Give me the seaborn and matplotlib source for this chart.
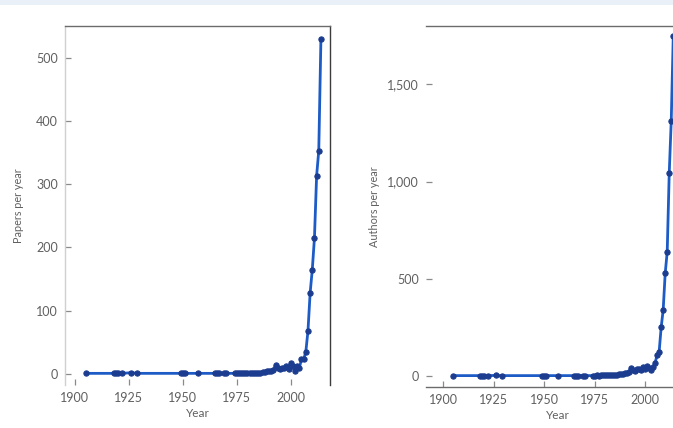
import numpy as np
import pandas as pd
import matplotlib
matplotlib.use("Agg")
import matplotlib.pyplot as plt
import seaborn as sns
from matplotlib.patches import Rectangle

# data
years = [1905, 1918, 1919, 1920, 1922, 1926, 1929, 1949, 1950, 1951, 1957,
         1965, 1966, 1967, 1969, 1970, 1974, 1975, 1976, 1977, 1978, 1979,
         1980, 1981, 1982, 1983, 1984, 1985, 1986, 1987, 1988, 1989, 1990,
         1991, 1992, 1993, 1994, 1995, 1996, 1997, 1998, 1999, 2000, 2001,
         2002, 2003, 2004, 2005, 2006, 2007, 2008, 2009, 2010, 2011, 2012,
         2013, 2014]
papers = [1, 1, 1, 1, 1, 2, 1, 1, 1, 1, 1,
          1, 1, 1, 1, 1, 1, 1, 2, 1, 1, 1,
          2, 1, 2, 1, 2, 1, 2, 3, 3, 4, 5,
          5, 7, 14, 9, 8, 10, 9, 12, 8, 18, 12,
          5, 13, 10, 23, 23, 35, 68, 128, 165, 215, 313,
          353, 530]
authors = [2, 2, 2, 2, 2, 3, 2, 2, 2, 2, 2,
           2, 2, 2, 2, 2, 2, 2, 3, 2, 3, 3,
           4, 3, 5, 4, 6, 5, 7, 9, 10, 12, 14,
           16, 22, 40, 30, 28, 36, 38, 30, 45, 35, 50,
           40, 30, 45, 68, 108, 125, 250, 340, 528, 639, 1043,
           1313, 1749]

x_ticks = [1900, 1925, 1950, 1975, 2000]
papers_ticks = [0, 100, 200, 300, 400, 500]
authors_ticks = [0, 500, 1000, 1500]
authors_labels = ["0", "500", "1,000", "1,500"]

df = pd.DataFrame({"year": years, "papers": papers, "authors": authors})

sns.set_style("white")
plt.rcParams["font.family"] = ["Lato", "DejaVu Sans"]

LINE = "#1d5bc6"
DOT = "#1b3c8f"
TXT = "#606060"

fig = plt.figure(figsize=(6.73, 4.28), dpi=100)
fig.add_artist(Rectangle((0, 1 - 5 / 428), 1, 5 / 428, transform=fig.transFigure,
                         color="#e9f0f8", lw=0))

ax1 = fig.add_axes([65 / 673, 43 / 428, 265 / 673, 359 / 428])
ax2 = fig.add_axes([426 / 673, 41.3 / 428, 264 / 673, 360.7 / 428])

for ax, col in [(ax1, "papers"), (ax2, "authors")]:
    sns.lineplot(data=df, x="year", y=col, ax=ax, color=LINE, lw=2.0,
                 marker="o", markersize=3.8, markerfacecolor=DOT,
                 markeredgecolor=DOT, clip_on=False, zorder=3)
    ax.set_xticks(x_ticks)
    ax.tick_params(axis="both", direction="in", length=4, width=0.9,
                   left=True, bottom=True,
                   colors="#8a8a8a", labelcolor=TXT, labelsize=9, pad=5)
    ax.set_xlabel("Year", fontsize=8.5, color=TXT, labelpad=3)

# left panel
ax1.set_xlim(1895.5, 2018.2)
ax1.set_ylim(-17.4, 549.8)
ax1.set_yticks(papers_ticks)
ax1.set_ylabel("Papers per year", fontsize=7.8, color=TXT, labelpad=9)
ax1.spines["bottom"].set_visible(False)
ax1.spines["left"].set_color("#d0d0d0")
ax1.spines["top"].set_color("#6b6b6b")
ax1.spines["right"].set_color("#3c3c3c")
for s in ax1.spines.values():
    s.set_linewidth(1.0)

# right panel (runs off the edge of the figure)
ax2.set_xlim(1891.4, 2022.3)
ax2.set_ylim(-55, 1800)
ax2.set_yticks(authors_ticks)
ax2.set_yticklabels(authors_labels)
ax2.set_ylabel("Authors per year", fontsize=7.8, color=TXT, labelpad=5)
ax2.spines["left"].set_visible(False)
ax2.spines["right"].set_visible(False)
ax2.spines["top"].set_color("#6b6b6b")
ax2.spines["bottom"].set_color("#6b6b6b")
for s in ax2.spines.values():
    s.set_linewidth(1.0)

fig.savefig("out.png", dpi=100)
